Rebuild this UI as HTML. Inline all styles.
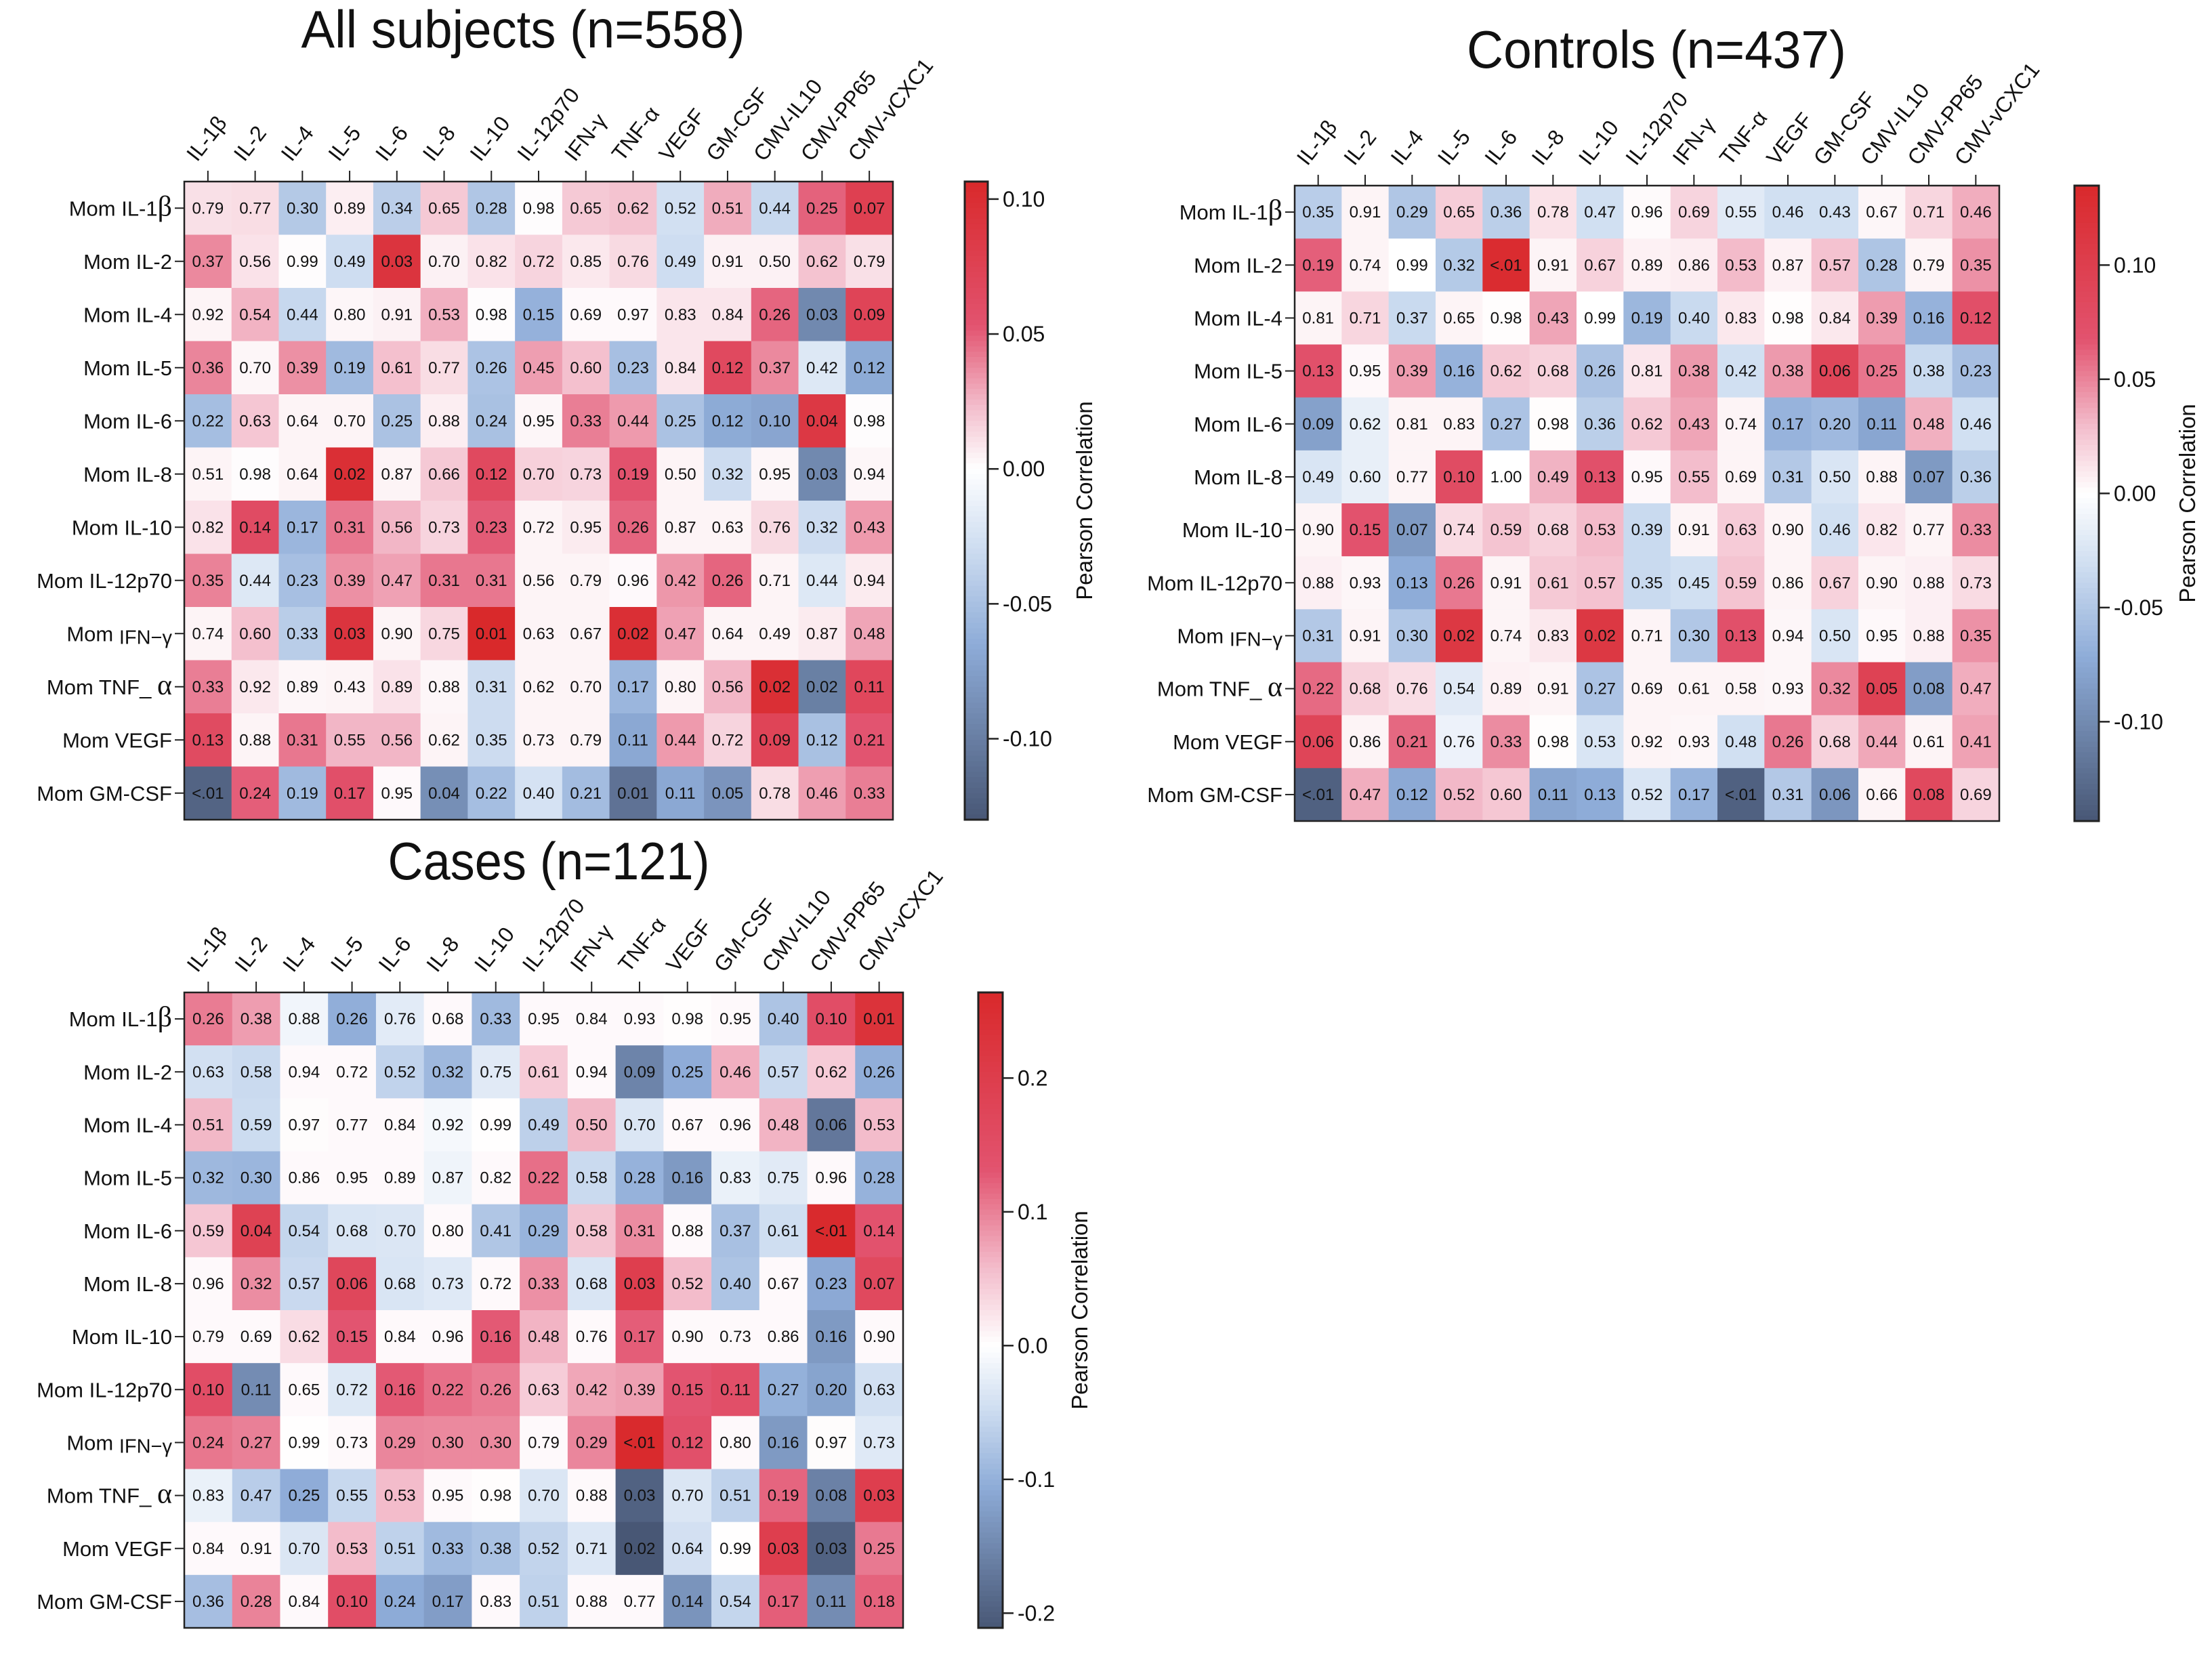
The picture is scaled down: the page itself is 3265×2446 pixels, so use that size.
<!DOCTYPE html>
<html><head><meta charset="utf-8"><style>
html,body{margin:0;padding:0;background:#fff;}
svg{display:block;font-family:"Liberation Sans",sans-serif;}
</style></head><body>
<svg id="fig" width="3265" height="2446" viewBox="0 0 3265 2446" xmlns="http://www.w3.org/2000/svg">
<rect width="3265" height="2446" fill="#fff"/>
</svg>
<script>
const colLabels = ["IL-1β","IL-2","IL-4","IL-5","IL-6","IL-8","IL-10","IL-12p70","IFN-γ","TNF-α","VEGF","GM-CSF","CMV-IL10","CMV-PP65","CMV-vCXC1"];
const rowLabels = ["IL-1","IL-2","IL-4","IL-5","IL-6","IL-8","IL-10","IL-12p70","IFN","TNF_","VEGF","GM-CSF"];

const allP = [
["0.79","0.77","0.30","0.89","0.34","0.65","0.28","0.98","0.65","0.62","0.52","0.51","0.44","0.25","0.07"],
["0.37","0.56","0.99","0.49","0.03","0.70","0.82","0.72","0.85","0.76","0.49","0.91","0.50","0.62","0.79"],
["0.92","0.54","0.44","0.80","0.91","0.53","0.98","0.15","0.69","0.97","0.83","0.84","0.26","0.03","0.09"],
["0.36","0.70","0.39","0.19","0.61","0.77","0.26","0.45","0.60","0.23","0.84","0.12","0.37","0.42","0.12"],
["0.22","0.63","0.64","0.70","0.25","0.88","0.24","0.95","0.33","0.44","0.25","0.12","0.10","0.04","0.98"],
["0.51","0.98","0.64","0.02","0.87","0.66","0.12","0.70","0.73","0.19","0.50","0.32","0.95","0.03","0.94"],
["0.82","0.14","0.17","0.31","0.56","0.73","0.23","0.72","0.95","0.26","0.87","0.63","0.76","0.32","0.43"],
["0.35","0.44","0.23","0.39","0.47","0.31","0.31","0.56","0.79","0.96","0.42","0.26","0.71","0.44","0.94"],
["0.74","0.60","0.33","0.03","0.90","0.75","0.01","0.63","0.67","0.02","0.47","0.64","0.49","0.87","0.48"],
["0.33","0.92","0.89","0.43","0.89","0.88","0.31","0.62","0.70","0.17","0.80","0.56","0.02","0.02","0.11"],
["0.13","0.88","0.31","0.55","0.56","0.62","0.35","0.73","0.79","0.11","0.44","0.72","0.09","0.12","0.21"],
["<.01","0.24","0.19","0.17","0.95","0.04","0.22","0.40","0.21","0.01","0.11","0.05","0.78","0.46","0.33"]];
const allR = [
[.011,.012,-.044,.006,-.040,.019,-.046,.001,.019,.021,-.027,.028,-.033,.049,.077],
[.038,.010,.001,-.029,.092,.005,.010,.015,.008,.013,-.029,.005,.005,.021,.011],
[.004,.026,-.033,.003,.005,.027,.001,-.061,.002,.002,.009,.009,.048,-.092,.072],
[.039,.003,.036,-.055,.022,.012,-.048,.032,.022,-.051,.009,.066,.038,-.020,-.066],
[-.052,.020,.004,.004,-.049,.006,-.050,.003,.041,.033,-.049,-.066,-.070,.087,.001],
[.004,.001,.004,.099,.004,.019,.066,.016,.015,.055,.004,-.030,.003,-.092,.003],
[.010,.063,-.058,.043,.025,.015,.051,.004,.007,.048,.004,.004,.013,-.030,.033],
[.040,-.020,-.051,.036,.031,.043,.043,.004,.004,.002,.034,.048,.004,-.020,.007],
[.004,.022,-.041,.092,.004,.014,.109,.004,.004,.099,.031,.004,.004,.007,.030],
[.041,.008,.003,.004,.010,.003,-.030,.004,.004,-.058,.004,.025,.099,-.099,.068],
[.064,.004,.043,.025,.025,.004,-.030,.004,.004,-.068,.033,.015,.072,-.050,.053],
[-.120,.050,-.055,.058,.002,-.087,-.052,-.025,-.053,-.109,-.068,-.083,.012,.032,.041]];

const ctlP = [
["0.35","0.91","0.29","0.65","0.36","0.78","0.47","0.96","0.69","0.55","0.46","0.43","0.67","0.71","0.46"],
["0.19","0.74","0.99","0.32","<.01","0.91","0.67","0.89","0.86","0.53","0.87","0.57","0.28","0.79","0.35"],
["0.81","0.71","0.37","0.65","0.98","0.43","0.99","0.19","0.40","0.83","0.98","0.84","0.39","0.16","0.12"],
["0.13","0.95","0.39","0.16","0.62","0.68","0.26","0.81","0.38","0.42","0.38","0.06","0.25","0.38","0.23"],
["0.09","0.62","0.81","0.83","0.27","0.98","0.36","0.62","0.43","0.74","0.17","0.20","0.11","0.48","0.46"],
["0.49","0.60","0.77","0.10","1.00","0.49","0.13","0.95","0.55","0.69","0.31","0.50","0.88","0.07","0.36"],
["0.90","0.15","0.07","0.74","0.59","0.68","0.53","0.39","0.91","0.63","0.90","0.46","0.82","0.77","0.33"],
["0.88","0.93","0.13","0.26","0.91","0.61","0.57","0.35","0.45","0.59","0.86","0.67","0.90","0.88","0.73"],
["0.31","0.91","0.30","0.02","0.74","0.83","0.02","0.71","0.30","0.13","0.94","0.50","0.95","0.88","0.35"],
["0.22","0.68","0.76","0.54","0.89","0.91","0.27","0.69","0.61","0.58","0.93","0.32","0.05","0.08","0.47"],
["0.06","0.86","0.21","0.76","0.33","0.98","0.53","0.92","0.93","0.48","0.26","0.68","0.44","0.61","0.41"],
["<.01","0.47","0.12","0.52","0.60","0.11","0.13","0.52","0.17","<.01","0.31","0.06","0.66","0.08","0.69"]];
const ctlR = [
[-.045,.005,-.051,.022,-.044,.013,-.030,.002,.019,-.020,-.030,-.030,.004,.018,.035],
[.063,.005,0,-.048,.130,.005,.020,.006,.008,.030,.006,.027,-.052,.005,.045],
[.005,.018,-.035,.005,.001,.038,0,-.063,-.035,.010,.001,.010,.041,-.067,.074],
[.072,.003,.041,-.067,.024,.020,-.054,.011,.042,-.030,.042,.090,.055,-.035,-.057],
[-.081,-.015,.005,.005,-.053,.001,-.044,.024,.038,.005,-.066,-.061,-.077,.034,-.030],
[-.025,-.015,.005,.079,0,.033,.072,.003,.029,.005,-.049,-.025,.005,-.087,-.044],
[.005,.069,-.087,.016,.026,.020,.030,-.035,.005,.023,.005,-.030,.011,.005,.047],
[.007,.004,-.072,.054,.005,.024,.027,-.035,-.030,.026,.005,.020,.005,.007,.016],
[-.049,.005,-.050,.111,.005,.010,.111,.005,-.050,.072,.004,-.025,.003,.007,.045],
[.059,.020,.015,-.020,.006,.005,-.053,.005,.005,.005,.004,.048,.094,-.084,.035],
[.090,.005,.060,-.012,.047,.001,-.025,.005,.004,-.030,.054,.020,.037,.005,.039],
[-.135,.035,-.074,.031,.025,-.077,-.072,-.025,-.066,-.135,-.049,-.090,.005,.084,.019]];

const casP = [
["0.26","0.38","0.88","0.26","0.76","0.68","0.33","0.95","0.84","0.93","0.98","0.95","0.40","0.10","0.01"],
["0.63","0.58","0.94","0.72","0.52","0.32","0.75","0.61","0.94","0.09","0.25","0.46","0.57","0.62","0.26"],
["0.51","0.59","0.97","0.77","0.84","0.92","0.99","0.49","0.50","0.70","0.67","0.96","0.48","0.06","0.53"],
["0.32","0.30","0.86","0.95","0.89","0.87","0.82","0.22","0.58","0.28","0.16","0.83","0.75","0.96","0.28"],
["0.59","0.04","0.54","0.68","0.70","0.80","0.41","0.29","0.58","0.31","0.88","0.37","0.61","<.01","0.14"],
["0.96","0.32","0.57","0.06","0.68","0.73","0.72","0.33","0.68","0.03","0.52","0.40","0.67","0.23","0.07"],
["0.79","0.69","0.62","0.15","0.84","0.96","0.16","0.48","0.76","0.17","0.90","0.73","0.86","0.16","0.90"],
["0.10","0.11","0.65","0.72","0.16","0.22","0.26","0.63","0.42","0.39","0.15","0.11","0.27","0.20","0.63"],
["0.24","0.27","0.99","0.73","0.29","0.30","0.30","0.79","0.29","<.01","0.12","0.80","0.16","0.97","0.73"],
["0.83","0.47","0.25","0.55","0.53","0.95","0.98","0.70","0.88","0.03","0.70","0.51","0.19","0.08","0.03"],
["0.84","0.91","0.70","0.53","0.51","0.33","0.38","0.52","0.71","0.02","0.64","0.99","0.03","0.03","0.25"],
["0.36","0.28","0.84","0.10","0.24","0.17","0.83","0.51","0.88","0.77","0.14","0.54","0.17","0.11","0.18"]];
const casR = [
[.103,.080,-.014,-.103,-.028,.005,-.089,.005,.005,.005,.002,.005,-.077,.150,.234],
[-.044,-.051,.005,.005,-.059,-.091,-.029,.045,.005,-.155,-.105,.067,-.051,.045,-.103],
[.061,-.049,.003,.005,.005,-.010,.001,-.063,.061,-.035,.005,.005,.064,-.171,.058],
[-.091,-.094,.005,.005,.005,-.015,.005,.112,-.051,-.098,-.128,-.020,-.029,.005,-.098],
[.049,.186,-.056,-.037,-.035,.005,-.075,-.096,.051,.092,.005,-.082,-.046,.260,.135],
[.005,.091,-.052,.171,-.037,-.031,.005,.089,-.037,.197,.058,-.077,.005,-.109,.165],
[.005,.005,.030,.131,.005,.005,.128,.064,.005,.125,.005,.005,.005,-.128,.005],
[.150,-.145,.005,-.033,.128,.112,.103,.044,.073,.078,.131,.145,-.100,-.116,-.044],
[.107,.100,.001,.005,.096,.094,.094,.005,.096,.260,.141,.005,-.128,.003,-.031],
[-.020,-.066,-.105,-.054,.058,.005,.002,-.035,.005,-.197,-.035,-.061,.119,-.159,.197],
[.005,.005,-.035,.058,-.061,-.089,-.080,-.058,-.034,-.212,-.043,.001,.197,-.197,.105],
[-.084,.098,.005,.150,-.107,-.124,.005,-.061,.005,.005,-.135,-.056,.124,-.145,.121]];

const allTicks = [0.10,0.05,0.00,-0.05,-0.10];
const ctlTicks = [0.10,0.05,0.00,-0.05,-0.10];
const casTicks = [0.2,0.1,0.0,-0.1,-0.2];

const NS="http://www.w3.org/2000/svg";
const svg=document.getElementById('fig');
function mk(tag,attrs,parent){const e=document.createElementNS(NS,tag);for(const k in attrs)e.setAttribute(k,attrs[k]);(parent||svg).appendChild(e);return e;}
function lerp(a,b,t){return Math.round(a+(b-a)*t);}
function hex(h){return [parseInt(h.slice(1,3),16),parseInt(h.slice(3,5),16),parseInt(h.slice(5,7),16)];}
const posStops=[[0,'#ffffff'],[0.22,'#f3bccb'],[0.5,'#e2536f'],[1,'#d9292b']];
const negStops=[[0,'#ffffff'],[0.22,'#cfdef1'],[0.5,'#8eacd8'],[1,'#485775']];
function ramp(stops,t){t=Math.max(0,Math.min(1,t));for(let i=1;i<stops.length;i++){if(t<=stops[i][0]){const a=hex(stops[i-1][1]),b=hex(stops[i][1]);const u=(t-stops[i-1][0])/(stops[i][0]-stops[i-1][0]);return `rgb(${lerp(a[0],b[0],u)},${lerp(a[1],b[1],u)},${lerp(a[2],b[2],u)})`;}}return stops[stops.length-1][1];}
function color(v,vmax,vmin){return v>=0?ramp(posStops,v/vmax):ramp(negStops,v/vmin);}

function drawChart(cfg){
  const g=mk('g',{});
  
  
  const nC=colLabels.length,nR=rowLabels.length;
  const cw=(cfg.x1-cfg.x0)/nC, rh=(cfg.y1-cfg.y0)/nR;
  const xs=i=>cfg.x0+i*cw, ys=j=>cfg.y0+j*rh;
  const t=mk('text',{x:cfg.titleX,y:cfg.titleY,'text-anchor':'middle','font-size':78,textLength:cfg.titleW,lengthAdjust:'spacingAndGlyphs',fill:'#111'},g);
  t.textContent=cfg.title;
  
  
  for(let j=0;j<nR;j++)for(let i=0;i<nC;i++){
    const r=mk('rect',{x:xs(i),y:ys(j),width:cw+0.6,height:rh+0.6,fill:color(cfg.r[j][i],cfg.vmax,cfg.vmin)},g);
    
    
    const tx=mk('text',{x:xs(i)+cw/2,y:ys(j)+rh/2+8,'text-anchor':'middle','font-size':24,fill:'#111'},g);
    tx.textContent=cfg.p[j][i];
    
    
  }
  const fr=mk('rect',{x:cfg.x0,y:cfg.y0,width:cfg.x1-cfg.x0,height:cfg.y1-cfg.y0,fill:'none',stroke:'#222','stroke-width':2.5},g);
  
  
  for(let i=0;i<nC;i++){
    const cx=xs(i)+cw/2;
    const tk=mk('line',{x1:cx,x2:cx,y1:cfg.y0-16,y2:cfg.y0,stroke:'#222','stroke-width':2},g);
    
    
    const lx=cx-16, ly=cfg.y0-28;
    const lb=mk('text',{x:lx,y:ly,'font-size':32,fill:'#111',transform:`rotate(-52 ${lx} ${ly})`},g);
    lb.textContent=colLabels[i];
    
    
  }
  for(let j=0;j<nR;j++){
    const cy=ys(j)+rh/2;
    const tk=mk('line',{x1:cfg.x0-14,x2:cfg.x0,y1:cy,y2:cy,stroke:'#222','stroke-width':2},g);
    
    
    const lb=mk('text',{x:cfg.x0-18,y:cy+11,'text-anchor':'end','font-size':31,fill:'#111'},g);
    const nm=rowLabels[j];
    if(nm==='IL-1'){lb.innerHTML='Mom IL-1<tspan font-family="Liberation Serif, serif" font-size="42">β</tspan>';}
    else if(nm==='IFN'){lb.innerHTML='Mom <tspan font-size="29" dy="4">IFN−γ</tspan>';}
    else if(nm==='TNF_'){lb.innerHTML='Mom TNF_ <tspan font-family="Liberation Serif, serif" font-size="42">α</tspan>';}
    else lb.textContent='Mom '+nm;
    
    
  }
  const H=cfg.y1-cfg.y0, steps=120;
  const cby=v=>cfg.y0+(cfg.vmax-v)/(cfg.vmax-cfg.vmin)*H;
  for(let k=0;k<steps;k++){
    const v=cfg.vmax-(k+0.5)/steps*(cfg.vmax-cfg.vmin);
    const s=mk('rect',{x:cfg.cbx,y:cfg.y0+k*H/steps,width:cfg.cbw,height:H/steps+0.8,fill:color(v,cfg.vmax,cfg.vmin)},g);
    
    
  }
  const cf=mk('rect',{x:cfg.cbx,y:cfg.y0,width:cfg.cbw,height:H,fill:'none',stroke:'#222','stroke-width':3},g);
  
  
  cfg.ticks.forEach(v=>{
    const y=cby(v);
    const l=mk('line',{x1:cfg.cbx+cfg.cbw,x2:cfg.cbx+cfg.cbw+16,y1:y,y2:y,stroke:'#222','stroke-width':2.5},g);
    
    
    const tl=mk('text',{x:cfg.cbx+cfg.cbw+22,y:y+11,'font-size':32,fill:'#111'},g);
    tl.textContent=v.toFixed(cfg.dec);
    
    
  });
  const ly=(cfg.y0+cfg.y1)/2;
  const pl=mk('text',{x:cfg.labX,y:ly,'text-anchor':'middle','font-size':33,fill:'#111',transform:`rotate(-90 ${cfg.labX} ${ly})`},g);
  pl.textContent='Pearson Correlation';
  
  
}

drawChart({name:'all-subjects-heatmap',title:'All subjects (n=558)',titleX:772,titleY:70,titleW:655,
  x0:272,x1:1318,y0:268,y1:1210,p:allP,r:allR,vmax:0.1065,vmin:-0.13,ticks:allTicks,dec:2,cbx:1424,cbw:34,labX:1612});
drawChart({name:'controls-heatmap',title:'Controls (n=437)',titleX:2445,titleY:100,titleW:560,
  x0:1911,x1:2951,y0:274,y1:1212,p:ctlP,r:ctlR,vmax:0.1348,vmin:-0.1435,ticks:ctlTicks,dec:2,cbx:3062,cbw:36,labX:3240});
drawChart({name:'cases-heatmap',title:'Cases (n=121)',titleX:810,titleY:1298,titleW:475,
  x0:272,x1:1333,y0:1465,y1:2403,p:casP,r:casR,vmax:0.264,vmin:-0.211,ticks:casTicks,dec:1,cbx:1444,cbw:36,labX:1605});
</script>
</body></html>
